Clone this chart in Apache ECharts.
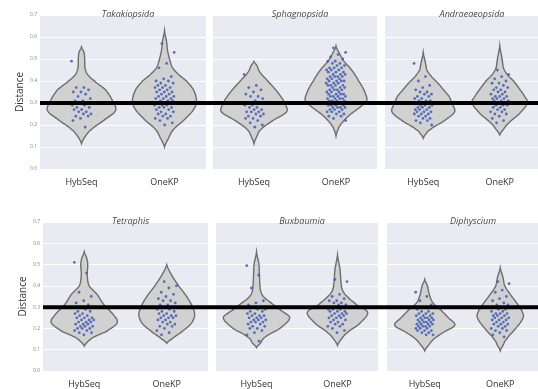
<!DOCTYPE html>
<html>
<head>
<meta charset="utf-8">
<script src="https://cdn.jsdelivr.net/npm/echarts@6/dist/echarts.min.js"></script>
<style>
  html, body { margin: 0; padding: 0; background: #ffffff; }
  #chart { width: 538px; height: 389px; }
</style>
</head>
<body>
<div id="chart"></div>
<script>
// ---- data ----------------------------------------------------------------
const categories = ['HybSeq', 'OneKP'];
const panelTitles = ['Takakiopsida', 'Sphagnopsida', 'Andraeaeopsida', 'Tetraphis', 'Buxbaumia', 'Diphyscium'];
const yMin = 0.0;
const yMax = 0.7;
const yStep = 0.1;
const threshold = 0.3;

// per-locus distances (one dot each)
const takakiopsidaHybSeq = [0.49,0.37,0.37,0.36,0.35,0.35,0.34,0.33,0.32,0.31,0.31,0.30,0.30,0.29,0.29,0.28,0.28,0.27,0.27,0.26,0.26,0.25,0.25,0.24,0.24,0.23,0.22,0.19];
const takakiopsidaOneKP = [0.57,0.53,0.48,0.46,0.42,0.41,0.40,0.40,0.39,0.39,0.38,0.38,0.37,0.37,0.37,0.36,0.36,0.35,0.35,0.35,0.34,0.34,0.33,0.33,0.33,0.32,0.32,0.32,0.31,0.31,0.31,0.30,0.30,0.30,0.29,0.29,0.29,0.28,0.28,0.28,0.27,0.27,0.26,0.26,0.25,0.25,0.24,0.24,0.23,0.23,0.22,0.21,0.20];
const sphagnopsidaHybSeq = [0.43,0.38,0.37,0.36,0.35,0.34,0.33,0.33,0.32,0.31,0.30,0.30,0.29,0.29,0.28,0.28,0.27,0.27,0.26,0.26,0.26,0.25,0.25,0.24,0.24,0.23,0.23,0.22,0.21,0.20,0.19];
const sphagnopsidaOneKP = [0.55,0.53,0.52,0.51,0.50,0.49,0.49,0.48,0.48,0.47,0.47,0.46,0.46,0.46,0.45,0.45,0.45,0.44,0.44,0.44,0.43,0.43,0.43,0.42,0.42,0.42,0.42,0.41,0.41,0.41,0.40,0.40,0.40,0.40,0.39,0.39,0.39,0.38,0.38,0.38,0.38,0.37,0.37,0.37,0.36,0.36,0.36,0.36,0.35,0.35,0.35,0.34,0.34,0.34,0.34,0.33,0.33,0.33,0.33,0.32,0.32,0.32,0.32,0.31,0.31,0.31,0.31,0.30,0.30,0.30,0.30,0.29,0.29,0.29,0.29,0.28,0.28,0.28,0.28,0.27,0.27,0.27,0.26,0.26,0.26,0.25,0.25,0.24,0.24,0.23,0.22];
const andraeaeopsidaHybSeq = [0.48,0.42,0.40,0.38,0.37,0.36,0.35,0.35,0.34,0.34,0.33,0.33,0.32,0.32,0.31,0.31,0.31,0.30,0.30,0.30,0.29,0.29,0.29,0.28,0.28,0.28,0.27,0.27,0.27,0.26,0.26,0.26,0.25,0.25,0.25,0.24,0.24,0.23,0.23,0.22,0.22,0.21,0.20];
const andraeaeopsidaOneKP = [0.45,0.43,0.42,0.41,0.40,0.39,0.39,0.38,0.37,0.37,0.36,0.36,0.35,0.35,0.34,0.34,0.33,0.33,0.33,0.32,0.32,0.32,0.31,0.31,0.31,0.30,0.30,0.30,0.29,0.29,0.29,0.28,0.28,0.27,0.27,0.26,0.26,0.25,0.25,0.24,0.23,0.22,0.21];
const tetraphisHybSeq = [0.51,0.46,0.37,0.35,0.33,0.32,0.31,0.30,0.30,0.29,0.28,0.28,0.27,0.27,0.26,0.26,0.25,0.25,0.25,0.24,0.24,0.24,0.23,0.23,0.23,0.22,0.22,0.22,0.21,0.21,0.21,0.20,0.20,0.20,0.19,0.19,0.18,0.18,0.17];
const tetraphisOneKP = [0.42,0.40,0.39,0.37,0.36,0.35,0.34,0.33,0.33,0.32,0.31,0.31,0.30,0.30,0.29,0.29,0.28,0.28,0.27,0.27,0.26,0.26,0.26,0.25,0.25,0.25,0.24,0.24,0.23,0.23,0.22,0.22,0.21,0.21,0.20,0.19,0.18,0.17];
const buxbaumiaHybSeq = [0.495,0.45,0.39,0.33,0.32,0.31,0.30,0.30,0.29,0.29,0.28,0.28,0.27,0.27,0.26,0.26,0.26,0.25,0.25,0.25,0.24,0.24,0.24,0.23,0.23,0.23,0.22,0.22,0.21,0.21,0.20,0.20,0.19,0.18,0.17,0.14];
const buxbaumiaOneKP = [0.43,0.42,0.36,0.35,0.34,0.33,0.33,0.32,0.32,0.31,0.31,0.30,0.30,0.30,0.29,0.29,0.29,0.28,0.28,0.28,0.27,0.27,0.27,0.26,0.26,0.26,0.25,0.25,0.25,0.24,0.24,0.23,0.23,0.22,0.22,0.21,0.21,0.20,0.19,0.18];
const diphysciumHybSeq = [0.37,0.35,0.33,0.31,0.30,0.29,0.28,0.28,0.27,0.27,0.27,0.26,0.26,0.26,0.25,0.25,0.25,0.25,0.24,0.24,0.24,0.24,0.23,0.23,0.23,0.23,0.22,0.22,0.22,0.22,0.21,0.21,0.21,0.21,0.20,0.20,0.20,0.19,0.19,0.19,0.18,0.18,0.17,0.17];
const diphysciumOneKP = [0.42,0.41,0.38,0.37,0.35,0.34,0.33,0.32,0.31,0.31,0.30,0.30,0.29,0.29,0.28,0.28,0.27,0.27,0.27,0.26,0.26,0.26,0.25,0.25,0.25,0.24,0.24,0.24,0.23,0.23,0.22,0.22,0.22,0.21,0.21,0.20,0.20,0.19,0.19,0.18,0.17,0.16];

// kernel density profiles: [distance, density]
const takakiopsidaHybSeqKde = [[0.115,0],[0.15,4],[0.18,10],[0.22,22],[0.265,34],[0.31,31],[0.36,24],[0.40,13],[0.43,6],[0.46,3.5],[0.50,3.2],[0.53,2.5],[0.555,0]];
const takakiopsidaOneKPKde = [[0.10,0],[0.14,4],[0.18,9],[0.22,19],[0.27,29],[0.31,32],[0.36,29],[0.40,22],[0.43,14],[0.46,8],[0.50,5],[0.54,3],[0.58,2],[0.63,0]];
const sphagnopsidaHybSeqKde = [[0.115,0],[0.15,3],[0.18,7],[0.22,19],[0.26,33],[0.30,31],[0.33,27],[0.37,20],[0.41,12],[0.44,6],[0.47,3],[0.49,0]];
const sphagnopsidaOneKPKde = [[0.15,0],[0.19,3],[0.22,8],[0.25,15],[0.28,24],[0.31,31],[0.34,30],[0.37,27],[0.40,23],[0.43,19],[0.46,14],[0.49,8],[0.52,4],[0.56,0]];
const andraeaeopsidaHybSeqKde = [[0.14,0],[0.16,3],[0.18,8],[0.22,23],[0.26,34],[0.30,31],[0.33,28],[0.36,22],[0.39,16],[0.42,9],[0.45,4],[0.48,2.5],[0.53,0]];
const andraeaeopsidaOneKPKde = [[0.155,0],[0.18,4],[0.21,10],[0.25,21],[0.30,30],[0.33,27],[0.36,22],[0.40,15],[0.43,8],[0.46,4],[0.50,2.5],[0.56,0]];
const tetraphisHybSeqKde = [[0.117,0],[0.14,4],[0.16,10],[0.185,22],[0.225,33],[0.26,30],[0.31,20],[0.36,13],[0.40,5],[0.45,3],[0.50,3.5],[0.53,2.5],[0.56,0]];
const tetraphisOneKPKde = [[0.13,0],[0.15,5],[0.18,14],[0.22,24],[0.26,28],[0.30,26],[0.35,20],[0.40,12],[0.45,5],[0.50,0]];
const buxbaumiaHybSeqKde = [[0.11,0],[0.13,4],[0.16,9],[0.20,24],[0.25,34],[0.285,25],[0.32,15],[0.35,7],[0.38,4],[0.45,3],[0.50,2.5],[0.56,0]];
const buxbaumiaOneKPKde = [[0.12,0],[0.15,4],[0.18,10],[0.22,22],[0.275,31],[0.31,20],[0.35,10],[0.38,5],[0.42,3.5],[0.48,2.5],[0.545,0]];
const diphysciumHybSeqKde = [[0.095,0],[0.12,4],[0.15,10],[0.18,20],[0.215,33],[0.25,26],[0.285,18],[0.32,9],[0.36,5],[0.40,3],[0.43,0]];
const diphysciumOneKPKde = [[0.095,0],[0.12,3],[0.15,7],[0.20,17],[0.25,25],[0.28,24],[0.32,18],[0.36,11],[0.40,5],[0.44,3],[0.485,0]];

const panelPoints = [
  [takakiopsidaHybSeq, takakiopsidaOneKP],
  [sphagnopsidaHybSeq, sphagnopsidaOneKP],
  [andraeaeopsidaHybSeq, andraeaeopsidaOneKP],
  [tetraphisHybSeq, tetraphisOneKP],
  [buxbaumiaHybSeq, buxbaumiaOneKP],
  [diphysciumHybSeq, diphysciumOneKP]
];
const panelKde = [
  [takakiopsidaHybSeqKde, takakiopsidaOneKPKde],
  [sphagnopsidaHybSeqKde, sphagnopsidaOneKPKde],
  [andraeaeopsidaHybSeqKde, andraeaeopsidaOneKPKde],
  [tetraphisHybSeqKde, tetraphisOneKPKde],
  [buxbaumiaHybSeqKde, buxbaumiaOneKPKde],
  [diphysciumHybSeqKde, diphysciumOneKPKde]
];

// ---- layout ----------------------------------------------------------------
const panelRects = [
  { left: 40,  top: 15,  width: 166, height: 154 },
  { left: 213, top: 15,  width: 164, height: 154 },
  { left: 385, top: 15,  width: 164, height: 154 },
  { left: 43,  top: 222, width: 165, height: 156 },
  { left: 216, top: 222, width: 162, height: 156 },
  { left: 387, top: 222, width: 162, height: 156 }
];
const FONT = '"Open Sans", "Liberation Sans", sans-serif';
const DENSITY_PX = 1.0;   // px of half-width per density unit at an 83px band
const JITTER = 0.12;      // dot spread, fraction of band width

// Catmull-Rom resampling of a density profile for a smooth outline
function smoothProfile(p) {
  const out = [];
  for (let i = 0; i < p.length - 1; i++) {
    const p0 = p[Math.max(0, i - 1)], p1 = p[i], p2 = p[i + 1], p3 = p[Math.min(p.length - 1, i + 2)];
    const steps = 8;
    for (let s = 0; s < steps; s++) {
      const t = s / steps, t2 = t * t, t3 = t2 * t;
      const f = (a, b, c, d) => 0.5 * ((2 * b) + (-a + c) * t + (2 * a - 5 * b + 4 * c - d) * t2 + (-a + 3 * b - 3 * c + d) * t3);
      const v = p1[0] + (p2[0] - p1[0]) * t;
      const d = Math.max(0, f(p0[1], p1[1], p2[1], p3[1]));
      out.push([v, d]);
    }
  }
  out.push(p[p.length - 1]);
  return out;
}

const grids = [], xAxes = [], yAxes = [], titles = [], series = [];

panelRects.forEach((r, gi) => {
  const showY = (gi === 0 || gi === 3);
  grids.push(Object.assign({ show: true, backgroundColor: '#eaeaf2', borderWidth: 0 }, r));
  xAxes.push({
    type: 'category', gridIndex: gi, data: categories,
    axisLine: { show: false }, axisTick: { show: false },
    axisLabel: { fontSize: 9, color: '#333', fontFamily: FONT, margin: 9 }
  });
  yAxes.push({
    type: 'value', gridIndex: gi, min: yMin, max: yMax, interval: yStep,
    axisLine: { show: false }, axisTick: { show: false },
    axisLabel: { show: showY, fontSize: 5, color: '#888', fontFamily: FONT, margin: 3,
                 formatter: v => v.toFixed(1) },
    splitLine: { show: true, lineStyle: { color: '#ffffff', width: 1 } },
    name: showY ? 'Distance' : '', nameLocation: 'middle', nameRotate: 90, nameGap: 15,
    nameTextStyle: { fontSize: 10, color: '#333', fontFamily: FONT }
  });
  titles.push({
    text: panelTitles[gi], left: r.left + r.width / 2, top: r.top - 10, textAlign: 'center',
    textStyle: { fontSize: 9, fontStyle: 'italic', fontWeight: 'normal', color: '#444', fontFamily: FONT }
  });

  const kdes = panelKde[gi];
  // violin bodies
  series.push({
    type: 'custom', xAxisIndex: gi, yAxisIndex: gi, z: 2, silent: true,
    data: categories.map((c, ci) => [ci]),
    renderItem(params, api) {
      const ci = api.value(0);
      const band = api.size([1, 0])[0];
      const scale = DENSITY_PX * band / 83;
      const cx = api.coord([ci, 0])[0];
      const prof = smoothProfile(kdes[ci]);
      const right = [], left = [];
      prof.forEach(([v, d]) => {
        const y = api.coord([ci, v])[1];
        right.push([cx + d * scale, y]);
        left.push([cx - d * scale, y]);
      });
      return {
        type: 'polygon',
        shape: { points: right.concat(left.reverse()) },
        style: { fill: '#d1d1d1', stroke: '#6d6d6d', lineWidth: 1.4 }
      };
    }
  });
  // individual loci
  const dots = [];
  panelPoints[gi].forEach((vals, ci) => vals.forEach((v, k) => dots.push([ci, v, k])));
  series.push({
    type: 'custom', xAxisIndex: gi, yAxisIndex: gi, z: 3, silent: true,
    data: dots,
    renderItem(params, api) {
      const ci = api.value(0), v = api.value(1), k = api.value(2);
      const band = api.size([1, 0])[0];
      const jit = (((k * 0.6180339887 + ci * 0.37) % 1) * 2 - 1) * JITTER * band;
      const p = api.coord([ci, v]);
      return {
        type: 'circle',
        shape: { cx: p[0] + jit, cy: p[1], r: 1.4 },
        style: { fill: 'rgba(64,92,180,0.85)' }
      };
    }
  });
});

// threshold line across each row of panels
[0, 3].forEach(gi => {
  series.push({
    type: 'custom', xAxisIndex: gi, yAxisIndex: gi, z: 10, silent: true,
    data: [[0, threshold]],
    renderItem(params, api) {
      const y = api.coord([0, api.value(1)])[1];
      const x0 = params.coordSys.x;
      return {
        type: 'line',
        shape: { x1: x0, y1: y, x2: api.getWidth(), y2: y },
        style: { stroke: '#000000', lineWidth: 4 }
      };
    }
  });
});

const chart = echarts.init(document.getElementById('chart'), null, { renderer: 'canvas' });
chart.setOption({
  animation: false,
  backgroundColor: '#ffffff',
  title: titles,
  grid: grids,
  xAxis: xAxes,
  yAxis: yAxes,
  series: series
});
</script>
</body>
</html>
